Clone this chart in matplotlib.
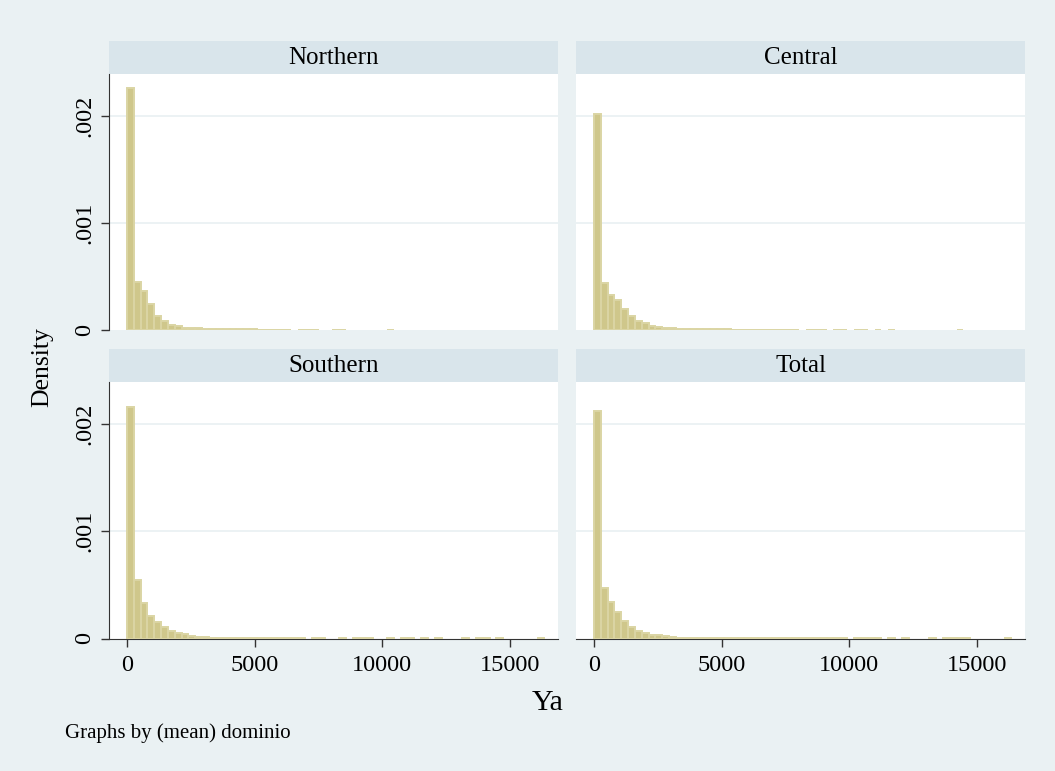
import numpy as np
import matplotlib.pyplot as plt

# histogram of Ya by region, 61 bins of width 268 starting at 0
bin_width = 268
n_bins = 61

regions = ["Northern", "Central", "Southern", "Total"]

northern = [.002259, .000445, .000368, .000246, .000131, .000084, .000050, .000037,
            .000022, .000022, .000016, .000012, .000010, .000009, .000008, .000007,
            .000006, .000005, .000005, .000004, .000004, .000003, .000003, .000003,
            0, .000002, .000002, .000002, 0, 0, .000002, .000002,
            0, 0, 0, 0, 0, 0, .000002, 0,
            0, 0, 0, 0, 0, 0, 0, 0,
            0, 0, 0, 0, 0, 0, 0, 0,
            0, 0, 0, 0, 0]

central = [.002019, .000442, .000327, .000280, .000196, .000131, .000087, .000065,
           .000040, .000028, .000022, .000019, .000012, .000010, .000008, .000007,
           .000006, .000006, .000005, .000005, .000004, .000004, .000004, .000004,
           .000004, .000003, .000003, .000003, .000003, .000003, 0, .000002,
           .000002, .000002, 0, .000002, .000002, 0, .000002, .000002,
           0, .000002, 0, .000002, 0, 0, 0, 0,
           0, 0, 0, 0, 0, .000002, 0, 0,
           0, 0, 0, 0, 0]

southern = [.002154, .000543, .000330, .000210, .000154, .000105, .000071, .000049,
            .000040, .000022, .000015, .000010, .000007, .000006, .000005, .000004,
            .000003, .000003, .000003, .000003, .000003, .000003, .000003, .000003,
            .000003, .000003, 0, .000002, .000002, 0, 0, .000002,
            0, .000002, .000002, .000002, 0, 0, .000002, 0,
            .000002, .000002, 0, .000002, 0, .000002, 0, 0,
            0, .000002, 0, .000002, .000002, 0, .000002, 0,
            0, 0, 0, 0, .000002]

total = [.002117, .000475, .000340, .000247, .000164, .000108, .000071, .000052,
         .000034, .000030, .000022, .000012, .000009, .000008, .000006, .000006,
         .000005, .000005, .000004, .000004, .000004, .000003, .000003, .000003,
         .000003, .000003, .000003, .000003, .000003, .000003, .000003, .000003,
         .000003, .000003, .000003, .000003, .000003, 0, .000002, .000002,
         .000002, .000002, 0, .000002, 0, .000002, 0, 0,
         0, .000002, 0, .000002, .000002, .000002, .000002, 0,
         0, 0, 0, 0, .000002]

densities = [northern, central, southern, total]

yticks = [0, .001, .002]
ytick_labels = ["0", ".001", ".002"]
xticks = [0, 5000, 10000, 15000]

bg = "#eaf1f3"
strip_col = "#d9e5eb"
bar_fill = "#cfc78b"
bar_edge = "#dbd5a4"

plt.rcParams["font.family"] = ["Liberation Serif", "DejaVu Serif"]

W, H = 1055, 771
fig = plt.figure(figsize=(W / 100, H / 100), dpi=100, facecolor=bg)


def px_axes(x0, y0, x1, y1, **kw):
    return fig.add_axes([x0 / W, 1 - y1 / H, (x1 - x0) / W, (y1 - y0) / H], **kw)


cols = [(109, 558), (576, 1025)]
rows = [(41, 74, 330), (349, 382, 638.5)]
edges = np.arange(n_bins) * bin_width

for i, (name, dens) in enumerate(zip(regions, densities)):
    r, c = divmod(i, 2)
    x0, x1 = cols[c]
    s0, p0, p1 = rows[r]

    strip = px_axes(x0, s0, x1, p0, facecolor=strip_col)
    strip.set_xticks([])
    strip.set_yticks([])
    for sp in strip.spines.values():
        sp.set_visible(False)
    strip.text(0.5, 0.5, name, ha="center", va="center", fontsize=18,
               transform=strip.transAxes)

    ax = px_axes(x0, p0, x1, p1, facecolor="white")
    d = np.array(dens)
    keep = d > 0
    ax.bar(edges[keep], d[keep], width=bin_width, align="edge",
           color=bar_fill, edgecolor=bar_edge, linewidth=1.4, zorder=3)
    ax.set_xlim(-700, 16880)
    ax.set_ylim(0, 0.00239)
    for y in yticks[1:]:
        ax.axhline(y, color=bg, lw=1.3, zorder=1)

    for sp in ax.spines.values():
        sp.set_visible(False)
    ax.spines["left"].set_visible(c == 0)
    ax.spines["bottom"].set_visible(r == 1)
    ax.spines["left"].set_color("#333333")
    ax.spines["bottom"].set_color("#333333")

    if c == 0:
        ax.set_yticks(yticks)
        ax.set_yticklabels(ytick_labels, rotation=90, va="center", fontsize=17.5)
        ax.tick_params(axis="y", length=6, width=1, color="#333333", pad=4)
    else:
        ax.set_yticks([])
    if r == 1:
        ax.set_xticks(xticks)
        ax.set_xticklabels([str(t) for t in xticks], fontsize=17.5)
        ax.tick_params(axis="x", length=6, width=1, color="#333333", pad=6)
    else:
        ax.set_xticks([])

fig.text(548 / W, 1 - 703 / H, "Ya", ha="center", va="center", fontsize=21.5)
fig.text(42 / W, 1 - 367 / H, "Density", ha="center", va="center",
         rotation=90, fontsize=18.5)
fig.text(65 / W, 1 - 733 / H, "Graphs by (mean) dominio", ha="left",
         va="center", fontsize=15)

fig.savefig("out.png", dpi=100, facecolor=bg)
